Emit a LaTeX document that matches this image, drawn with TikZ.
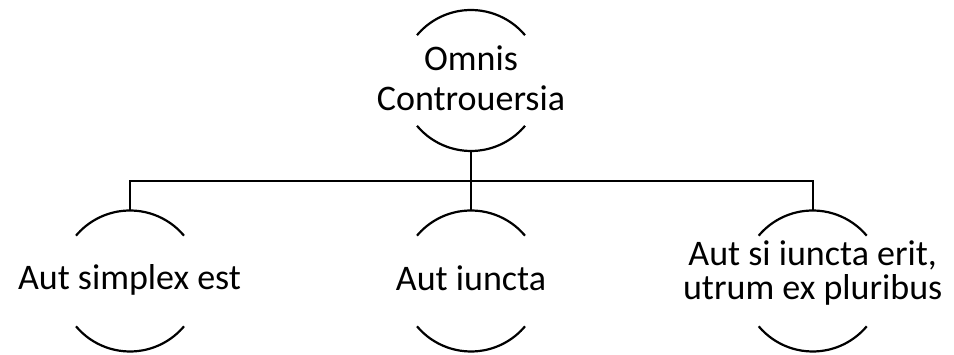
\documentclass[tikz,border=0pt]{standalone}
\usepackage{fontspec}
\setmainfont{Carlito}
\begin{document}
\begin{tikzpicture}[x=1pt,y=1pt,
  ring/.style={circle, minimum size=141pt, inner sep=0pt, outer sep=0pt, draw=none},
  lbl/.style={font=\fontsize{36}{40}\selectfont, align=center, inner sep=0pt},
  arcline/.style={line width=2.2pt},
  link/.style={line width=2.2pt}]
\useasboundingbox (0,0) rectangle (954,355);
\node[ring] (top) at (471,274.5) {};
\node[ring] (c1) at (130,74) {};
\node[ring] (c2) at (471,74) {};
\node[ring] (c3) at (812.7,74) {};
\foreach \n in {top,c1,c2,c3} {
  \draw[arcline] (\n.40) arc[start angle=40,end angle=140,radius=70.5];
  \draw[arcline] (\n.220) arc[start angle=220,end angle=320,radius=70.5];
}
\draw[link] (top.south) -- (c2.north);
\draw[link] (c1.north) -- ++(0,29.5) -| (c3.north);
\node[lbl, anchor=base] (t0) at (471,244) {Omnis\\Controuersia};
\node[lbl, anchor=base] (t1) at (129.5,65.5) {Aut simplex est};
\node[lbl, anchor=base] (t2) at (471,64.5) {Aut iuncta};
\node[lbl, anchor=base, font=\fontsize{36}{34}\selectfont] (t3) at (812.7,55) {Aut si iuncta erit,\\utrum ex pluribus};
\end{tikzpicture}
\end{document}
